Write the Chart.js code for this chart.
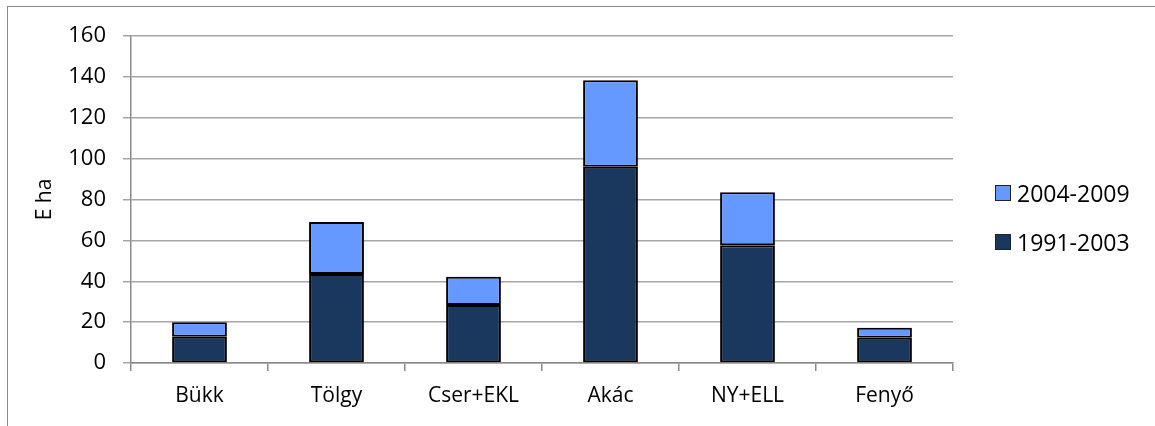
<!DOCTYPE html>
<html>
<head>
<meta charset="utf-8">
<script src="https://cdn.jsdelivr.net/npm/chart.js@4.4.0/dist/chart.umd.min.js"></script>
<style>
    html, body { margin: 0; padding: 0; background: #fff; }
    #wrap { position: relative; width: 1155px; height: 426px; overflow: hidden; }
    #frame { position: absolute; left: 7px; top: 6px; width: 1160px; height: 430px;
             border-left: 1.5px solid #8a8a8a; border-top: 1.5px solid #8a8a8a; }
    #grafico { position: absolute; left: 0; top: 0; }
    .leyenda { position: absolute; left: 995px; font-family: "Open Sans", sans-serif; font-size: 23px;
               color: #000; display: flex; align-items: center; height: 30px; }
    .leyenda span.caja { width: 14px; height: 14px; border: 1.5px solid #222; margin-right: 6px; display: inline-block; }
</style>
</head>
<body>
<div id="wrap">
    <div id="frame"></div>
    <canvas id="grafico" width="1155" height="426"></canvas>
    <div class="leyenda" style="top: 178px;"><span class="caja" style="background:#6699FF"></span>2004-2009</div>
    <div class="leyenda" style="top: 227px;"><span class="caja" style="background:#1A375E"></span>1991-2003</div>
</div>
<script>
const categorias = ['Bükk', 'Tölgy', 'Cser+EKL', 'Akác', 'NY+ELL', 'Fenyő'];
const serie1991 = [12.9, 43.5, 28.4, 96.0, 57.6, 12.4];
const serie2004 = [7.1, 25.5, 13.8, 42.4, 25.9, 4.9];
const ticksY = [0, 20, 40, 60, 80, 100, 120, 140, 160];

document.addEventListener("DOMContentLoaded", function () {
    const ctx = document.getElementById('grafico').getContext('2d');
    new Chart(ctx, {
        type: 'bar',
        data: {
            labels: categorias,
            datasets: [{
                label: '1991-2003',
                data: serie1991,
                backgroundColor: '#1A375E',
                borderColor: '#000',
                borderWidth: 2,
                borderSkipped: false,
                categoryPercentage: 1,
                barPercentage: 0.4
            }, {
                label: '2004-2009',
                data: serie2004,
                backgroundColor: '#6699FF',
                borderColor: '#000',
                borderWidth: 2,
                borderSkipped: false,
                categoryPercentage: 1,
                barPercentage: 0.4
            }]
        },
        options: {
            responsive: false,
            animation: false,
            layout: { padding: { top: 36, right: 202, bottom: 0, left: 0 } },
            scales: {
                x: {
                    stacked: true,
                    afterFit: s => { s.height = 63; },
                    grid: { drawOnChartArea: false, tickLength: 8, offset: true, color: '#8a8a8a', lineWidth: 1.5 },
                    border: { color: '#8a8a8a', width: 1.5 },
                    ticks: { color: '#000', padding: 12, font: { family: 'Open Sans', size: 21 } }
                },
                y: {
                    stacked: true,
                    min: 0,
                    max: 160,
                    afterFit: s => { s.width = 131; },
                    afterBuildTicks: s => { s.ticks = ticksY.map(v => ({ value: v })); },
                    grid: { color: '#a6a6a6', lineWidth: 1.5, tickLength: 8 },
                    border: { color: '#8a8a8a', width: 1.5 },
                    ticks: { color: '#000', padding: 17, font: { family: 'Open Sans', size: 22 } },
                    title: { display: true, text: 'E ha', color: '#000', padding: { top: 32, bottom: 0 },
                             font: { family: 'Open Sans', size: 21 } }
                }
            },
            plugins: {
                legend: { display: false },
                tooltip: { enabled: false }
            }
        }
    });
});
</script>
</body>
</html>
